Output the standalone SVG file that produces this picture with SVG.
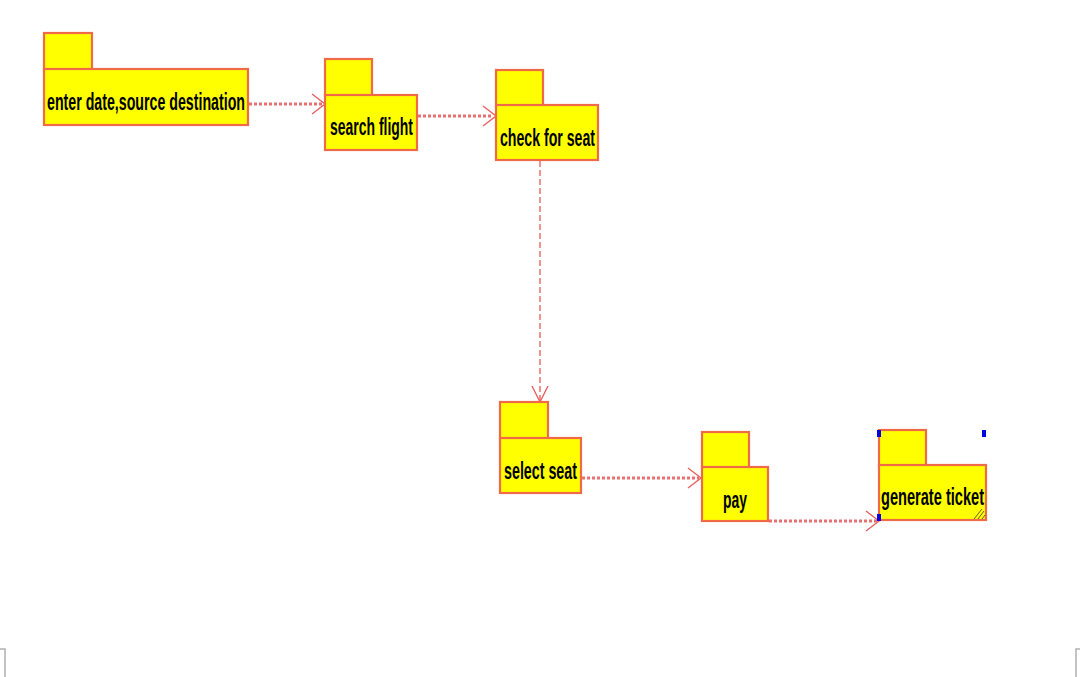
<svg xmlns="http://www.w3.org/2000/svg" width="1080" height="677" viewBox="0 0 1080 677">
<style>
.pk{fill:#ffff00;stroke:#f06a48;stroke-width:2.2}
.lb{font-family:"Liberation Sans",Arial,sans-serif;font-weight:bold;font-size:23px;fill:#000}
.dot{fill:none;stroke:#e87070;stroke-width:3;stroke-dasharray:3 2}
.dash{fill:none;stroke:#e87070;stroke-width:1.5;stroke-dasharray:6 3}
.ah{fill:none;stroke:#e86060;stroke-width:1.4}
.hd{fill:#0000e0}
.cm{fill:none;stroke:#b0b0b0;stroke-width:1.5}
</style>
<rect width="1080" height="677" fill="#fff"/>
<g id="connectors">
<line class="dot" x1="249" y1="104" x2="323" y2="104"/>
<path class="ah" d="M312,94 L325,104 L312,114"/>
<line class="dot" x1="418" y1="116" x2="493" y2="116"/>
<path class="ah" d="M483,106 L496,116 L483,126"/>
<line class="dash" x1="540" y1="161" x2="540" y2="401"/>
<path class="ah" d="M532,386 L540,402 L548,386"/>
<line class="dot" x1="582" y1="478" x2="699" y2="478"/>
<path class="ah" d="M688,468 L701,478 L688,488"/>
<line class="dot" x1="769" y1="521" x2="877" y2="521"/>
<path class="ah" d="M866,511 L879,521 L866,531"/>
</g>
<g id="n1">
<rect class="pk" x="44" y="33" width="48" height="37"/>
<rect class="pk" x="44" y="69" width="204" height="56"/>
<text class="lb" x="47" y="110" textLength="198" lengthAdjust="spacingAndGlyphs">enter date,source destination</text>
</g>
<g id="n2">
<rect class="pk" x="325" y="59" width="47" height="37"/>
<rect class="pk" x="325" y="95" width="92" height="55"/>
<text class="lb" x="330" y="135" textLength="83" lengthAdjust="spacingAndGlyphs">search flight</text>
</g>
<g id="n3">
<rect class="pk" x="496" y="70" width="47" height="36"/>
<rect class="pk" x="496" y="105" width="102" height="55"/>
<text class="lb" x="500" y="146" textLength="95" lengthAdjust="spacingAndGlyphs">check for seat</text>
</g>
<g id="n4">
<rect class="pk" x="500" y="402" width="48" height="37"/>
<rect class="pk" x="500" y="438" width="81" height="55"/>
<text class="lb" x="504" y="479" textLength="73" lengthAdjust="spacingAndGlyphs">select seat</text>
</g>
<g id="n5">
<rect class="pk" x="702" y="432" width="47" height="36"/>
<rect class="pk" x="702" y="467" width="66" height="54"/>
<text class="lb" x="735" y="508" text-anchor="middle" textLength="24" lengthAdjust="spacingAndGlyphs">pay</text>
</g>
<g id="n6">
<rect class="pk" x="879" y="430" width="47" height="36"/>
<rect class="pk" x="879" y="465" width="107" height="55"/>
<text class="lb" x="881" y="505" textLength="103" lengthAdjust="spacingAndGlyphs">generate ticket</text>
<path d="M974,519 L982,509 M978,519 L984,511 M982,519 L985,515" stroke="#606020" stroke-width="1" fill="none"/>
<rect class="hd" x="877" y="430" width="4" height="7"/>
<rect class="hd" x="982" y="430" width="4" height="7"/>
<rect class="hd" x="877" y="514" width="4" height="7"/>
</g>
<path class="cm" d="M0,649 L5,649 L5,677"/>
<path class="cm" d="M1080,649 L1076,649 L1076,677"/>
</svg>
